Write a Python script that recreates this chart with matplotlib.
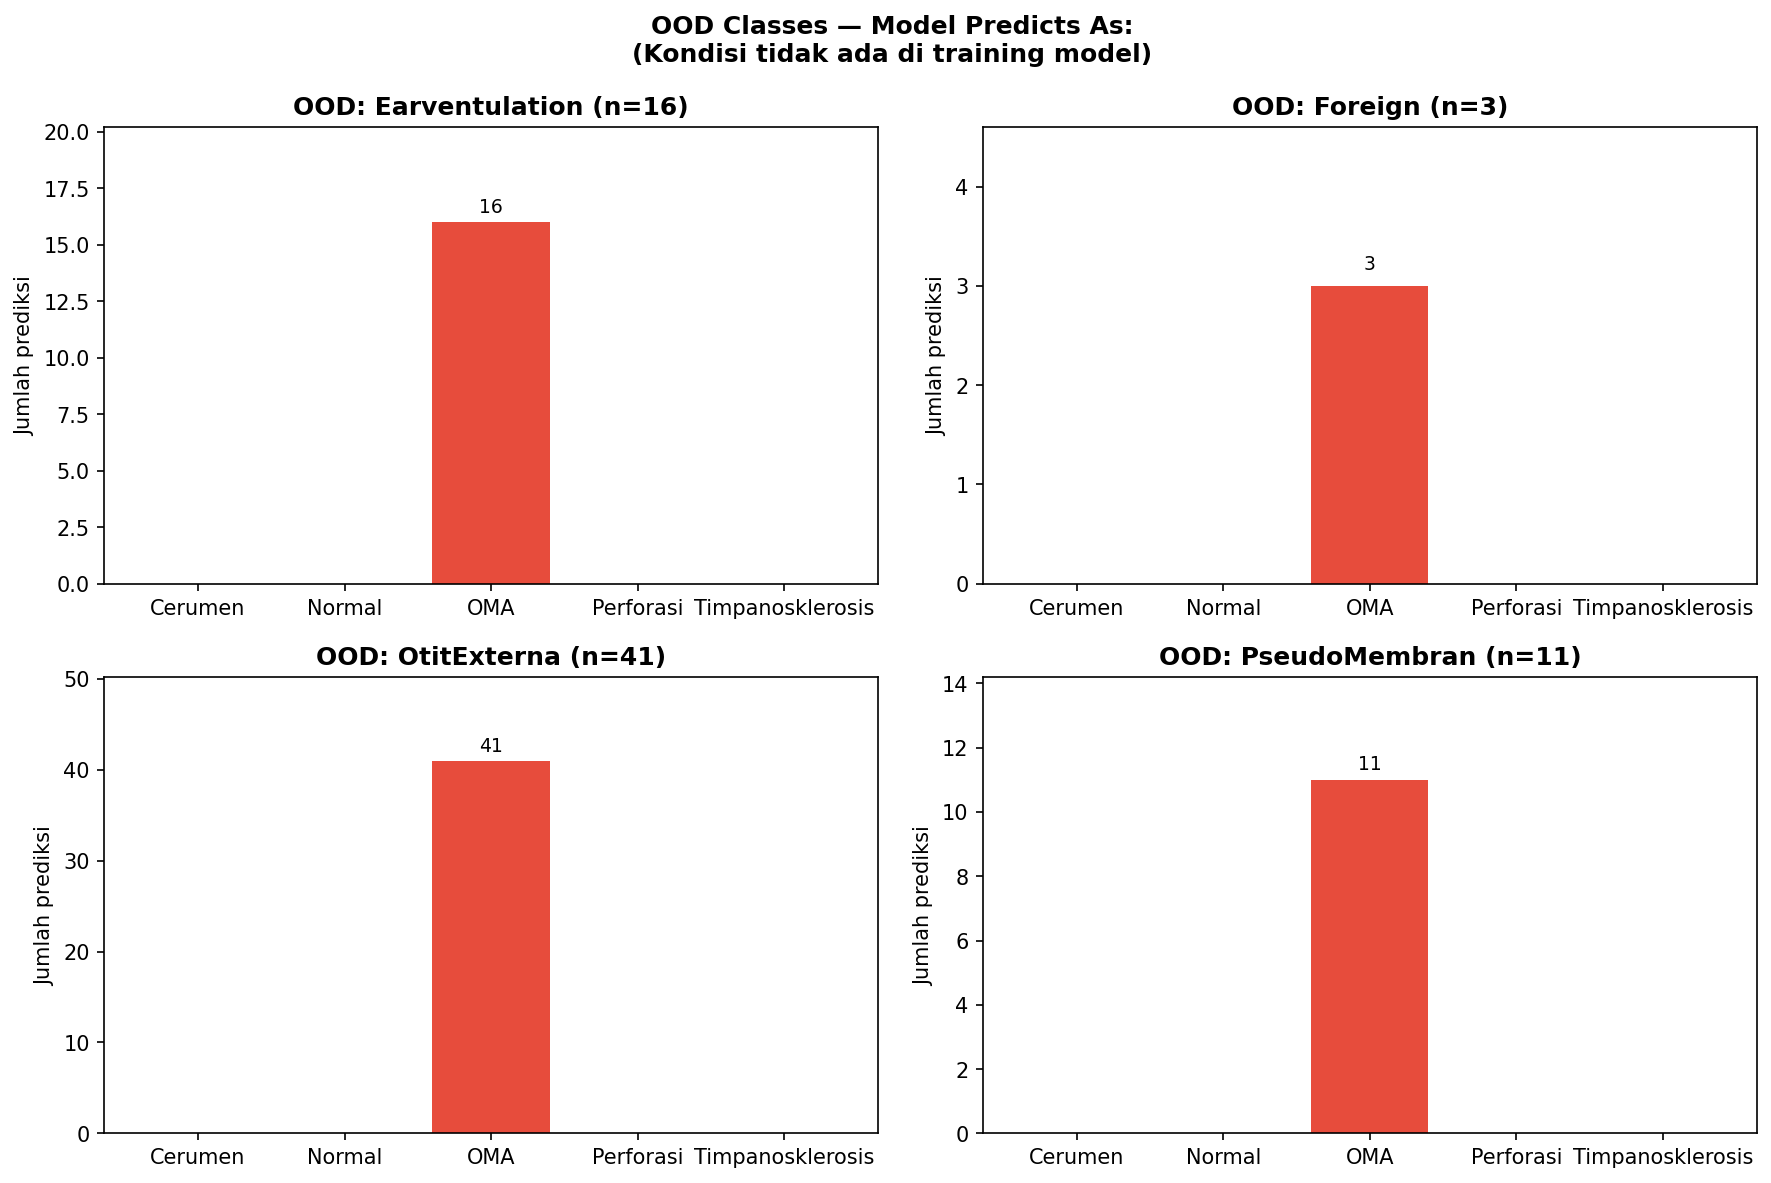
import matplotlib.pyplot as plt

classes = ["Cerumen", "Normal", "OMA", "Perforasi", "Timpanosklerosis"]
ood_names = ["Earventulation", "Foreign", "OtitExterna", "PseudoMembran"]
counts_earvent = [0, 0, 16, 0, 0]
counts_foreign = [0, 0, 3, 0, 0]
counts_otit = [0, 0, 41, 0, 0]
counts_pseudo = [0, 0, 11, 0, 0]
all_counts = [counts_earvent, counts_foreign, counts_otit, counts_pseudo]

fig, axes = plt.subplots(2, 2, figsize=(12, 8), dpi=150)
axes = axes.flatten()

for i in range(4):
    ax = axes[i]
    c = all_counts[i]
    n = sum(c)
    bars = ax.bar(classes, c, color="#e74c3c", width=0.8)
    for b, v in zip(bars, c):
        if v > 0:
            ax.text(b.get_x() + b.get_width() / 2, v + 0.1 + n * 0.01, str(v),
                    ha="center", va="bottom", fontsize=9)
    ax.set_ylim(0, n * 1.2 + 1)
    ax.set_title("OOD: " + ood_names[i] + " (n=" + str(n) + ")", fontweight="bold")
    ax.set_ylabel("Jumlah prediksi")

fig.suptitle("OOD Classes — Model Predicts As:\n(Kondisi tidak ada di training model)",
             fontweight="bold", fontsize=12)
plt.tight_layout(rect=(0, 0, 1, 0.993), h_pad=1.3)
plt.savefig("out.png", bbox_inches="tight")
